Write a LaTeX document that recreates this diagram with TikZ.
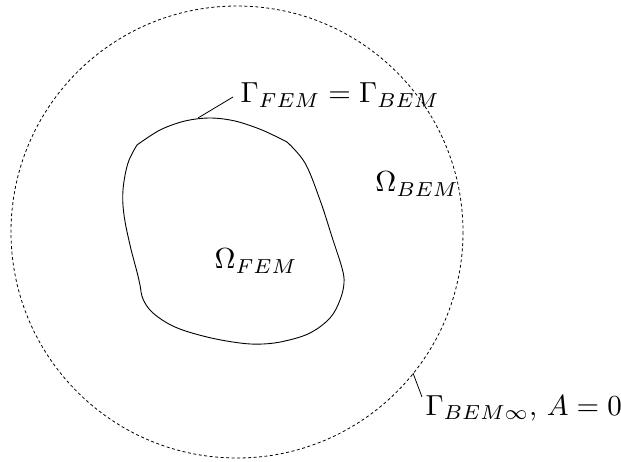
\documentclass[tikz,border=0pt]{standalone}
\begin{document}
\begin{tikzpicture}[x=1pt,y=-1pt,
  lbl/.style={inner sep=0pt,scale=2.9},
  bound/.style={line width=0.9pt},
  farb/.style={line width=0.8pt,dash pattern=on 3pt off 2.5pt},
  leader/.style={line width=0.8pt}]
\useasboundingbox (0,0) rectangle (621,461);
% outer dashed boundary
\draw[farb] (237,232) circle (226);
% inner FEM region
\draw[bound] plot[smooth,tension=0.55] coordinates {(137,145) (160,130) (185,121) (210,118) (235,121) (262,130) (287,142)}
  plot[smooth,tension=0.6] coordinates {(287,142) (305,163) (320,200) (333,240) (342,268) (344,283) (340,300) (330,318) (310,333) (285,341) (263,344) (240,343) (207,337) (175,327) (153,313) (143,299) (140,285) (137,272) (130,245) (124,215) (123,190) (128,163) (137,145)};
% labels
\node[lbl,anchor=west] (gfb) at (240,95) {$\Gamma_{FEM}=\Gamma_{BEM}$};
\node[lbl] (obem) at (417,184) {$\Omega_{BEM}$};
\node[lbl] (ofem) at (256,261) {$\Omega_{FEM}$};
\node[lbl,anchor=west] (ginf) at (425,408) {$\Gamma_{BEM\infty}$, $A=0$};
% leaders
\coordinate (ptop) at (198,118);
\coordinate (gtop) at (233,97);
\coordinate (pinf) at (413,373);
\coordinate (ginfend) at (422,397);
\draw[leader] (ptop) -- (gtop);
\draw[leader] (pinf) -- (ginfend);
\end{tikzpicture}
\end{document}
